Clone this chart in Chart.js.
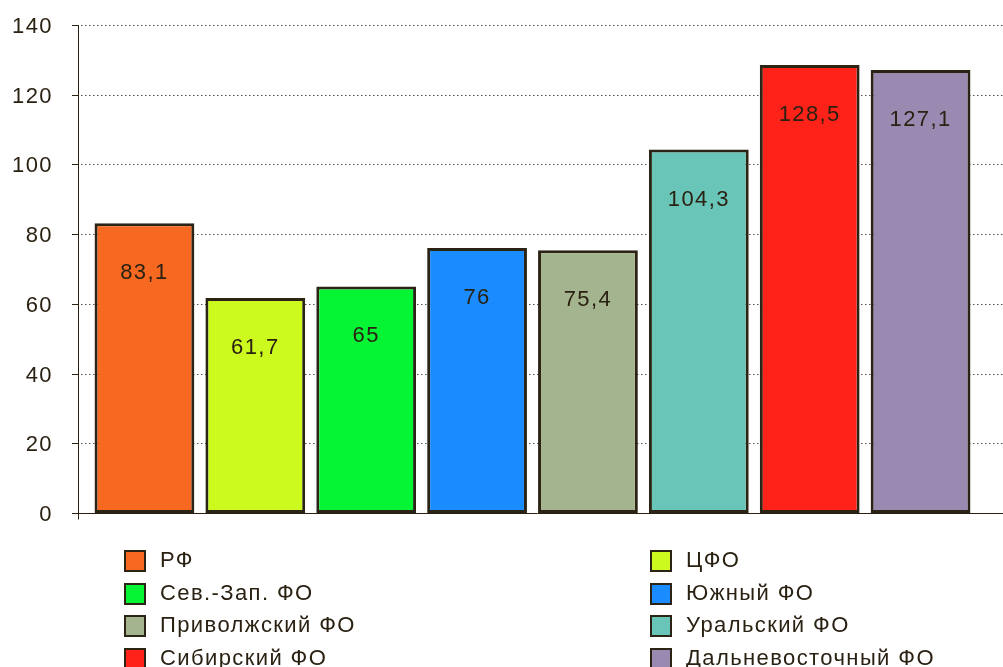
<!DOCTYPE html>
<html>
<head>
<meta charset="utf-8">
<script src="https://cdn.jsdelivr.net/npm/chart.js@4"></script>
<style>
  body { margin:0; background:#fff; }
  #wrap { position:relative; width:1003px; height:667px; overflow:hidden; }
  #legend { position:absolute; left:0; top:0; width:1003px; height:667px; pointer-events:none;
    font-family:"Liberation Sans", Arial, sans-serif; font-size:22px; letter-spacing:1.4px; color:#2a2112; }
  .item { position:absolute; white-space:nowrap; line-height:24px; }
  .box { position:absolute; left:0; top:1px; width:18px; height:18px; border:2px solid #2b2314; box-sizing:content-box; }
  .txt { position:absolute; left:36px; top:-1px; }
</style>
</head>
<body>
<div id="wrap">
  <canvas id="c" width="1003" height="667"></canvas>
  <div id="legend"></div>
</div>
<script>
// data
const categories = ['РФ', 'ЦФО', 'Сев.-Зап. ФО', 'Южный ФО', 'Приволжский ФО', 'Уральский ФО', 'Сибирский ФО', 'Дальневосточный ФО'];
const values = [83.1, 61.7, 65, 76, 75.4, 104.3, 128.5, 127.1];
const colors = ['#f76820', '#ccfa1e', '#05f535', '#1a8cff', '#a3b48e', '#69c5b8', '#ff2218', '#9a8ab2'];
const yTicks = [0, 20, 40, 60, 80, 100, 120, 140];

const INK = '#2a2112';
const FONT = '22px "Liberation Sans", Arial, sans-serif';

// axis, tick marks, tick labels and dotted grid drawn through the y scale
const axesPlugin = {
  id: 'axesPlugin',
  beforeDatasetsDraw(chart) {
    const ctx = chart.ctx, y = chart.scales.y;
    const ax = 78, right = chart.width;
    ctx.save();
    ctx.lineWidth = 1;
    ctx.font = FONT;
    ctx.letterSpacing = '1.4px';
    ctx.textAlign = 'right';
    ctx.textBaseline = 'middle';
    yTicks.forEach(v => {
      const py = Math.round(y.getPixelForValue(v)) + 0.5;
      if (v > 0) {
        ctx.strokeStyle = '#555';
        ctx.setLineDash([1.5, 2.5]);
        ctx.beginPath(); ctx.moveTo(ax + 3, py); ctx.lineTo(right, py); ctx.stroke();
        ctx.setLineDash([]);
      }
      ctx.strokeStyle = INK;
      ctx.beginPath(); ctx.moveTo(72, py); ctx.lineTo(ax, py); ctx.stroke();
      ctx.fillStyle = INK;
      ctx.fillText(String(v), 53, py + 1);
    });
    // baseline
    const by = Math.round(y.getPixelForValue(0)) + 0.5;
    ctx.strokeStyle = INK;
    ctx.beginPath(); ctx.moveTo(72, by); ctx.lineTo(right, by); ctx.stroke();
    // vertical axis
    ctx.beginPath(); ctx.moveTo(ax + 0.5, y.getPixelForValue(140)); ctx.lineTo(ax + 0.5, by + 6); ctx.stroke();
    ctx.restore();
  },
  afterDatasetsDraw(chart) {
    const ctx = chart.ctx, meta = chart.getDatasetMeta(0);
    ctx.save();
    ctx.fillStyle = INK;
    ctx.font = FONT;
    ctx.letterSpacing = '1.4px';
    ctx.textAlign = 'center';
    ctx.textBaseline = 'middle';
    meta.data.forEach((bar, i) => {
      ctx.fillText(String(values[i]).replace('.', ','), bar.x, bar.y + 50);
    });
    ctx.restore();
  }
};

new Chart(document.getElementById('c'), {
  type: 'bar',
  data: {
    labels: categories,
    datasets: [{
      data: values,
      backgroundColor: colors,
      borderColor: '#2b2314',
      borderWidth: 3,
      borderSkipped: false,
      barPercentage: 0.9,
      categoryPercentage: 1.0
    }]
  },
  options: {
    responsive: false,
    animation: false,
    layout: { padding: { top: 25, bottom: 154, right: 27, left: 0 } },
    plugins: { legend: { display: false }, tooltip: { enabled: false } },
    scales: {
      x: { display: false },
      y: {
        min: 0, max: 140,
        afterFit(s) { s.width = 89; },
        grid: { display: false, drawTicks: false },
        border: { display: false },
        ticks: { display: false, stepSize: 20 }
      }
    }
  },
  plugins: [axesPlugin]
});

// legend in two columns, filled row by row
const legend = document.getElementById('legend');
categories.forEach((name, i) => {
  const col = i % 2, row = Math.floor(i / 2);
  const el = document.createElement('div');
  el.className = 'item';
  el.style.left = (col ? 650 : 124) + 'px';
  el.style.top = (549 + row * 32.5) + 'px';
  el.innerHTML = '<span class="box" style="background:' + colors[i] + '"></span><span class="txt">' + name + '</span>';
  legend.appendChild(el);
});
</script>
</body>
</html>
